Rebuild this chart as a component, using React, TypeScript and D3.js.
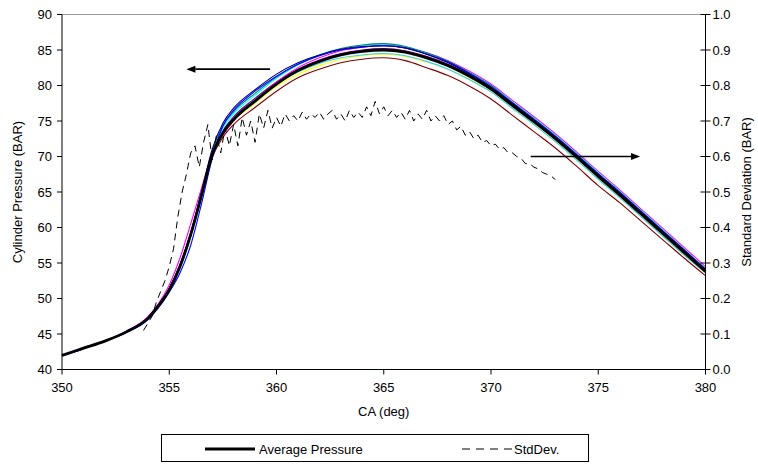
import React from 'react';
import * as d3 from 'd3';

// ---------- DATA ----------
const crankAngle = [350, 351, 352, 353, 354, 354.5, 355, 355.5, 356, 356.5, 357, 357.5, 358, 359, 360, 361, 362, 363, 364, 365, 366, 367, 368, 369, 370, 371, 372, 373, 374, 375, 376, 377, 378, 379, 380];

const averagePressure = [42.0, 43.0, 44.0, 45.3, 47.2, 49.0, 51.2, 54.5, 59.0, 64.5, 70.2, 73.3, 75.2, 77.8, 80.2, 82.1, 83.4, 84.3, 84.8, 85.0, 84.7, 83.9, 82.8, 81.3, 79.5, 77.2, 74.9, 72.5, 69.9, 67.2, 64.6, 61.9, 59.2, 56.5, 53.8];

const cycleNavy = [42.0, 43.0, 44.0, 45.3, 47.2, 49.0, 51.4, 54.8, 59.2, 65.0, 71.0, 74.7, 76.8, 79.4, 81.6, 83.2, 84.3, 85.1, 85.5, 85.6, 85.3, 84.4, 83.2, 81.6, 79.8, 77.5, 75.2, 72.8, 70.2, 67.5, 64.9, 62.2, 59.5, 56.8, 54.1];
const cycleBlue = [41.9, 42.9, 44.0, 45.2, 47.0, 48.7, 50.9, 53.6, 57.5, 63.3, 69.7, 74.3, 76.5, 79.2, 81.3, 83.0, 84.2, 85.0, 85.4, 85.6, 85.3, 84.4, 83.3, 81.7, 79.8, 77.5, 75.2, 72.8, 70.2, 67.5, 64.9, 62.2, 59.5, 56.8, 54.0];
const cycleTeal = [42.0, 43.0, 44.1, 45.3, 47.2, 49.0, 51.2, 54.6, 59.2, 64.8, 70.7, 74.3, 76.3, 78.9, 81.2, 83.0, 84.3, 85.2, 85.7, 85.9, 85.5, 84.6, 83.4, 81.8, 80.0, 77.6, 75.3, 72.9, 70.3, 67.6, 65.0, 62.3, 59.6, 56.9, 54.2];
const cycleMagenta = [42.0, 43.0, 44.0, 45.4, 47.4, 49.3, 51.9, 55.7, 60.5, 65.5, 70.4, 73.0, 75.0, 77.8, 80.5, 82.5, 83.9, 84.9, 85.4, 85.6, 85.3, 84.6, 83.5, 82.0, 80.2, 77.9, 75.6, 73.2, 70.6, 67.9, 65.3, 62.6, 59.9, 57.2, 54.5];
const cycleCyan = [42.0, 43.0, 44.0, 45.3, 47.1, 48.9, 51.1, 54.4, 58.9, 64.8, 70.6, 74.0, 76.0, 78.6, 81.0, 82.9, 84.2, 85.1, 85.6, 85.8, 85.4, 84.5, 83.3, 81.8, 80.0, 77.7, 75.4, 73.0, 70.4, 67.7, 65.1, 62.4, 59.7, 56.9, 54.2];
const cycleSky = [42.0, 43.0, 44.0, 45.2, 47.1, 48.8, 51.0, 54.2, 58.7, 64.2, 70.0, 73.5, 75.5, 78.0, 80.2, 81.9, 83.1, 83.9, 84.3, 84.5, 84.2, 83.4, 82.3, 80.8, 79.1, 76.8, 74.5, 72.1, 69.5, 66.8, 64.2, 61.5, 58.8, 56.1, 53.6];
const cycleYellow = [42.0, 43.0, 44.0, 45.3, 47.2, 49.0, 51.2, 54.5, 59.0, 64.5, 70.0, 73.2, 75.0, 77.5, 79.9, 81.6, 82.8, 83.7, 84.2, 84.4, 84.1, 83.3, 82.3, 80.9, 79.1, 76.8, 74.5, 72.1, 69.5, 66.8, 64.2, 61.5, 58.8, 56.1, 53.6];
const cyclePurple = [42.0, 43.0, 44.0, 45.3, 47.2, 49.1, 51.3, 54.6, 59.1, 64.6, 70.3, 73.6, 75.6, 78.2, 80.5, 82.3, 83.6, 84.5, 85.0, 85.2, 84.9, 84.1, 83.0, 81.5, 79.7, 77.4, 75.1, 72.7, 70.1, 67.4, 64.8, 62.1, 59.4, 56.7, 54.0];
const cycleMaroon = [42.0, 43.0, 44.0, 45.3, 47.3, 49.2, 51.4, 54.7, 59.2, 64.5, 69.8, 72.7, 74.5, 76.9, 79.2, 81.1, 82.3, 83.2, 83.7, 83.9, 83.5, 82.5, 81.4, 79.9, 78.1, 75.8, 73.5, 71.2, 68.6, 65.9, 63.5, 60.9, 58.3, 55.7, 53.2];

const stdDevStart = 353.8;
const stdDevStep = 0.2;
const stdDev = [
  0.11, 0.13, 0.15, 0.19, 0.22,
  0.25, 0.29, 0.34, 0.43, 0.50,
  0.55, 0.61, 0.63, 0.57, 0.64,
  0.69, 0.59, 0.66, 0.61, 0.68,
  0.63, 0.69, 0.63, 0.71, 0.66,
  0.70, 0.64, 0.72, 0.68, 0.73,
  0.68, 0.71, 0.685, 0.72, 0.70,
  0.715, 0.70, 0.725, 0.705, 0.72,
  0.71, 0.725, 0.705, 0.72, 0.73,
  0.705, 0.72, 0.70, 0.73, 0.71,
  0.725, 0.71, 0.74, 0.715, 0.755,
  0.72, 0.74, 0.715, 0.73, 0.71,
  0.725, 0.705, 0.73, 0.70, 0.72,
  0.705, 0.73, 0.70, 0.715, 0.70,
  0.715, 0.69, 0.70, 0.675, 0.685,
  0.66, 0.67, 0.65, 0.66, 0.64,
  0.645, 0.63, 0.635, 0.62, 0.625,
  0.61, 0.61, 0.60, 0.595, 0.58,
  0.58, 0.57, 0.565, 0.555, 0.55,
  0.545, 0.535,
];

const xTicks = [350, 355, 360, 365, 370, 375, 380];
const yLeftTicks = [40, 45, 50, 55, 60, 65, 70, 75, 80, 85, 90];
const yRightTicks = [0, 0.1, 0.2, 0.3, 0.4, 0.5, 0.6, 0.7, 0.8, 0.9, 1.0];

const cycleSeries = [
  { name: 'maroon', color: '#800000', values: cycleMaroon },
  { name: 'yellow', color: '#FFFF00', values: cycleYellow },
  { name: 'sky', color: '#33CCFF', values: cycleSky },
  { name: 'purple', color: '#800080', values: cyclePurple },
  { name: 'magenta', color: '#FF00FF', values: cycleMagenta },
  { name: 'cyan', color: '#00FFFF', values: cycleCyan },
  { name: 'teal', color: '#008080', values: cycleTeal },
  { name: 'blue', color: '#0000FF', values: cycleBlue },
  { name: 'navy', color: '#000080', values: cycleNavy },
];

// annotation arrows in data coordinates
const leftArrow = { from: [359.7, 82.3], to: [355.8, 82.3] }; // pressure axis
const rightArrow = { from: [371.85, 0.6], to: [376.95, 0.6] }; // stddev axis

// ---------- LAYOUT ----------
const W = 758;
const H = 464;
const M = { left: 62, right: 705.5, top: 14.5, bottom: 369.5 };
const FONT = '"Liberation Sans", Arial, Helvetica, sans-serif';

export default function App() {
  const x = d3.scaleLinear().domain([350, 380]).range([M.left, M.right]);
  const yL = d3.scaleLinear().domain([40, 90]).range([M.bottom, M.top]);
  const yR = d3.scaleLinear().domain([0, 1]).range([M.bottom, M.top]);

  const pLine = d3
    .line<number>()
    .x((_, i) => x(crankAngle[i]))
    .y((d) => yL(d))
    .curve(d3.curveMonotoneX);

  const sdLine = d3
    .line<number>()
    .x((_, i) => x(stdDevStart + i * stdDevStep))
    .y((d) => yR(d));

  const arrow = (a: { from: number[]; to: number[] }, y: d3.ScaleLinear<number, number>) => {
    const x1 = x(a.from[0]);
    const x2 = x(a.to[0]);
    const yy = y(a.from[1]);
    const dir = Math.sign(x2 - x1);
    const hl = 9;
    const hw = 3.5;
    return (
      <g>
        <line x1={x1} y1={yy} x2={x2 - dir * hl} y2={yy} stroke="#000" strokeWidth={1.6} />
        <path d={`M${x2},${yy} L${x2 - dir * hl},${yy - hw} L${x2 - dir * hl},${yy + hw} Z`} fill="#000" />
      </g>
    );
  };

  return (
    <svg
      width={W}
      height={H}
      style={{ position: 'absolute', left: 0, top: 0, background: '#fff' }}
      fontFamily={FONT}
    >
      <rect x={0} y={0} width={W} height={H} fill="#fff" />
      {/* top border */}
      <line x1={M.left} x2={M.right} y1={M.top} y2={M.top} stroke="#999" strokeWidth={1} />

      {/* cycles */}
      {cycleSeries.map((s) => (
        <path key={s.name} d={pLine(s.values) || ''} fill="none" stroke={s.color} strokeWidth={1.1} />
      ))}
      {/* average */}
      <path d={pLine(averagePressure) || ''} fill="none" stroke="#000" strokeWidth={2.8} />
      {/* std dev */}
      <path d={sdLine(stdDev) || ''} fill="none" stroke="#000" strokeWidth={1} strokeDasharray="7,5" />

      {/* arrows */}
      {arrow(leftArrow, yL)}
      {arrow(rightArrow, yR)}

      {/* axes */}
      <line x1={M.left} x2={M.left} y1={M.top} y2={M.bottom} stroke="#000" />
      <line x1={M.right} x2={M.right} y1={M.top} y2={M.bottom} stroke="#000" />
      <line x1={M.left} x2={M.right} y1={M.bottom} y2={M.bottom} stroke="#000" />

      {yLeftTicks.map((t) => (
        <g key={'l' + t}>
          <line x1={M.left - 5} x2={M.left} y1={yL(t)} y2={yL(t)} stroke="#000" />
          <text x={M.left - 10} y={yL(t)} dy="0.35em" textAnchor="end" fontSize={13}>
            {t}
          </text>
        </g>
      ))}
      {yRightTicks.map((t) => (
        <g key={'r' + t}>
          <line x1={M.right - 5} x2={M.right + 5} y1={yR(t)} y2={yR(t)} stroke="#000" />
          <text x={M.right + 7} y={yR(t)} dy="0.35em" textAnchor="start" fontSize={13}>
            {t.toFixed(1)}
          </text>
        </g>
      ))}
      {xTicks.map((t) => (
        <g key={'x' + t}>
          <line x1={x(t)} x2={x(t)} y1={M.bottom} y2={M.bottom + 5} stroke="#000" />
          <text x={x(t)} y={M.bottom + 22} textAnchor="middle" fontSize={13}>
            {t}
          </text>
        </g>
      ))}

      {/* axis titles */}
      <text x={(M.left + M.right) / 2} y={416} textAnchor="middle" fontSize={13}>
        CA (deg)
      </text>
      <text
        transform={`translate(22,${(M.top + M.bottom) / 2}) rotate(-90)`}
        textAnchor="middle"
        fontSize={13}
      >
        Cylinder Pressure (BAR)
      </text>
      <text
        transform={`translate(751,${(M.top + M.bottom) / 2}) rotate(-90)`}
        textAnchor="middle"
        fontSize={13}
      >
        Standard Deviation (BAR)
      </text>

      {/* legend */}
      <rect x={161.5} y={434.5} width={427} height={27} fill="#fff" stroke="#000" strokeWidth={1} />
      <line x1={205} x2={255} y1={449} y2={449} stroke="#000" strokeWidth={2.8} />
      <text x={259} y={449} dy="0.35em" fontSize={13}>
        Average Pressure
      </text>
      <line x1={462} x2={512} y1={449} y2={449} stroke="#000" strokeWidth={1} strokeDasharray="8,6" />
      <text x={514} y={449} dy="0.35em" fontSize={13}>
        StdDev.
      </text>
    </svg>
  );
}
